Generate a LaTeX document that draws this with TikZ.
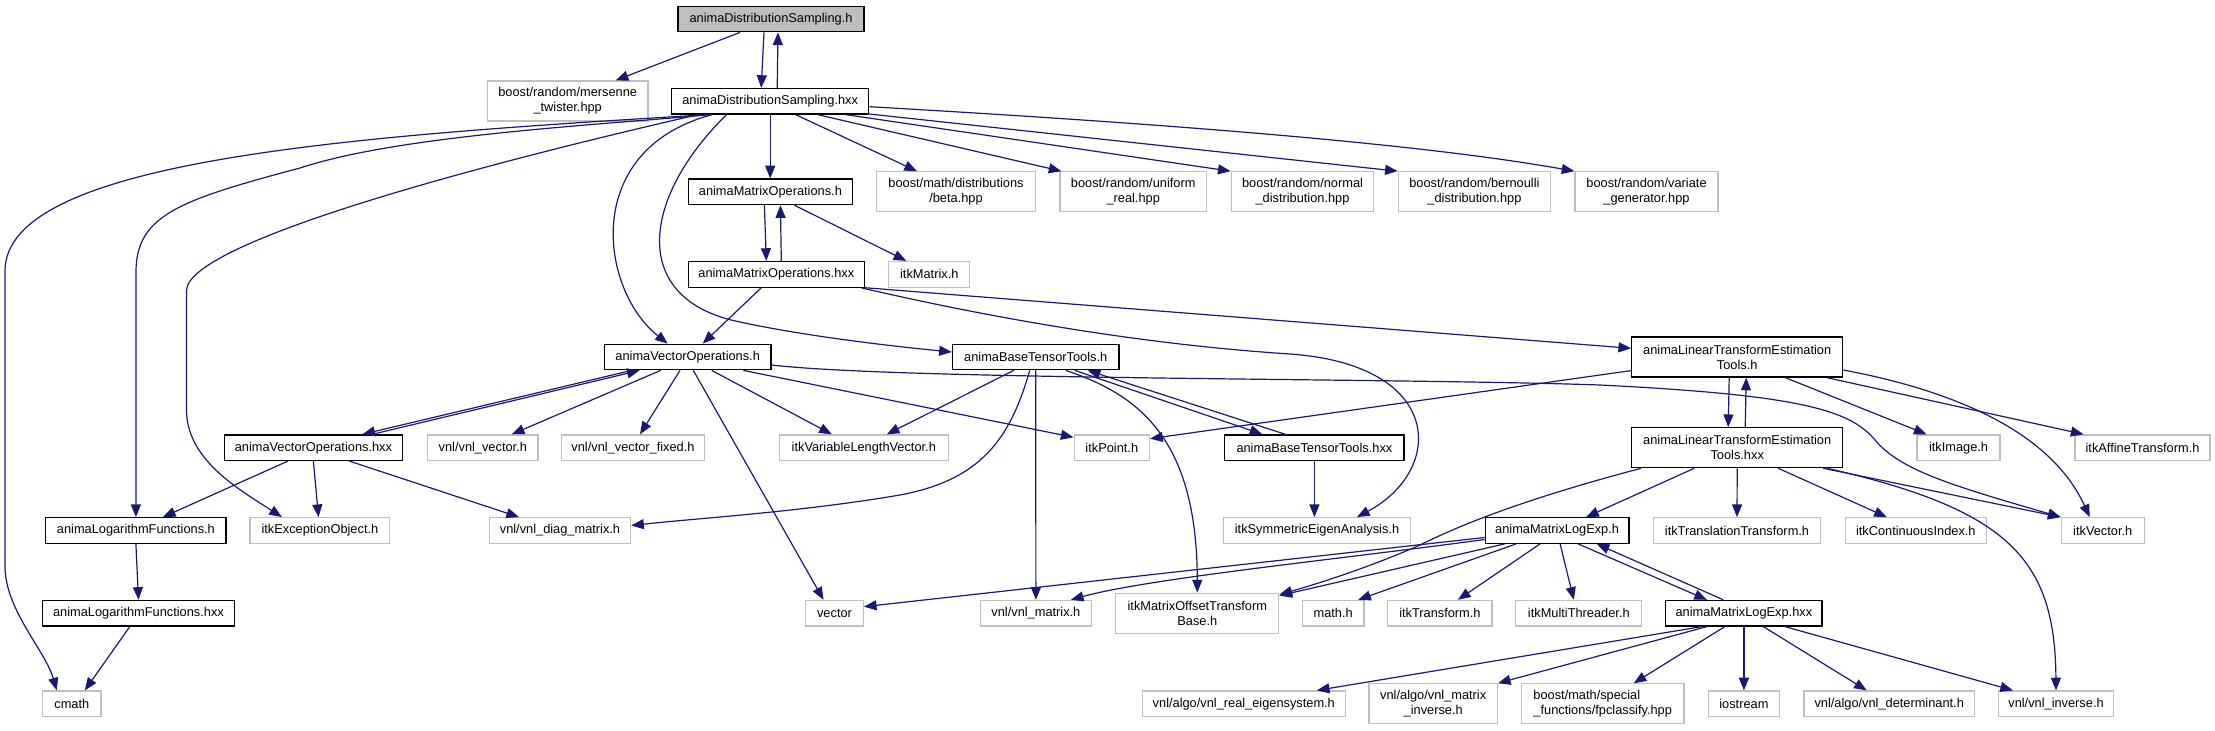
\documentclass[tikz,border=0pt]{standalone}
\usepackage{fontspec}
\setmainfont{Liberation Sans}
\usetikzlibrary{arrows.meta,calc}
\definecolor{midnight}{HTML}{191970}
\definecolor{grey75}{HTML}{BFBFBF}
\begin{document}
\begin{tikzpicture}[x=0.75pt,y=-0.75pt,
  font=\fontsize{9.6}{11.25}\selectfont,
  nb/.style={rectangle, inner sep=0pt, align=center, line width=0.9pt, minimum height=19.2pt},
  doc/.style={nb, draw=black},
  ext/.style={nb, draw=grey75},
  root/.style={doc, fill=grey75},
  two/.style={minimum height=30pt},
  w/.style={minimum width=#1*0.75pt},
  dep/.style={draw=midnight, line width=0.9pt, -{Triangle[length=9.5pt,width=7.5pt]}}]
\useasboundingbox (0,0) rectangle (2215,731);
% rank 0
\node[root, w=186] (DSh) at (771,19) {animaDistributionSampling.h};
% rank 1
\node[ext, two, w=160.5] (mersenne) at (567.7,101) {boost/random/mersenne\\\_twister.hpp};
\node[doc, w=197.3] (DShxx) at (770.2,101.3) {animaDistributionSampling.hxx};
% rank 2
\node[doc, w=163.8] (MOh) at (770.4,191.8) {animaMatrixOperations.h};
\node[ext, two, w=159] (beta) at (956,191.8) {boost/math/distributions\\/beta.hpp};
\node[ext, two, w=146.3] (uniform) at (1133.2,191.8) {boost/random/uniform\\\_real.hpp};
\node[ext, two, w=142.5] (normal) at (1302.5,191.8) {boost/random/normal\\\_distribution.hpp};
\node[ext, two, w=152.2] (bernoulli) at (1474.4,191.8) {boost/random/bernoulli\\\_distribution.hpp};
\node[ext, two, w=143] (variate) at (1646.5,191.8) {boost/random/variate\\\_generator.hpp};
% rank 3
\node[doc, w=175.6] (MOhxx) at (776.3,274.3) {animaMatrixOperations.hxx};
\node[ext, w=81.1] (itkMatrix) at (929.3,274.3) {itkMatrix.h};
% rank 4
\node[doc, w=166.7] (VOh) at (687.7,357) {animaVectorOperations.h};
\node[doc, w=166.6] (BTTh) at (1035.7,357) {animaBaseTensorTools.h};
\node[doc, two, w=211] (LTETh) at (1737.2,357) {animaLinearTransformEstimation\\Tools.h};
% rank 5
\node[doc, w=178.4] (VOhxx) at (313.4,447.7) {animaVectorOperations.hxx};
\node[ext, w=110.4] (vnlvector) at (482.8,447.7) {vnl/vnl\_vector.h};
\node[ext, w=142.7] (vnlvecfixed) at (633,447.7) {vnl/vnl\_vector\_fixed.h};
\node[ext, w=169] (itkVLV) at (863.8,447.7) {itkVariableLengthVector.h};
\node[ext, w=75.3] (itkPoint) at (1111.8,447.7) {itkPoint.h};
\node[doc, w=179.2] (BTThxx) at (1314.4,447.7) {animaBaseTensorTools.hxx};
\node[doc, two, w=211] (LTEThxx) at (1737.2,447.7) {animaLinearTransformEstimation\\Tools.hxx};
\node[ext, w=83] (itkImage) at (1958.5,447.7) {itkImage.h};
\node[ext, w=135] (itkAffine) at (2142.5,447.7) {itkAffineTransform.h};
% rank 6
\node[doc, w=180.2] (LogFnh) at (135.9,530.5) {animaLogarithmFunctions.h};
\node[ext, w=139.8] (itkExc) at (319.9,530.5) {itkExceptionObject.h};
\node[ext, w=141.2] (vnldiag) at (560,530.5) {vnl/vnl\_diag\_matrix.h};
\node[ext, w=187.4] (itkSym) at (1317,530.5) {itkSymmetricEigenAnalysis.h};
\node[doc, w=143.8] (MLEh) at (1557.1,530.5) {animaMatrixLogExp.h};
\node[ext, w=166.8] (itkTrans) at (1737,530.5) {itkTranslationTransform.h};
\node[ext, w=141.2] (itkCont) at (1915.8,530.5) {itkContinuousIndex.h};
\node[ext, w=82.9] (itkVector) at (2102.7,530.5) {itkVector.h};
% rank 7
\node[doc, w=192] (LogFnhxx) at (138.5,613.2) {animaLogarithmFunctions.hxx};
\node[ext, w=57.6] (vector) at (834.5,613.2) {vector};
\node[ext, w=110.8] (vnlmatrix) at (1035.9,613.2) {vnl/vnl\_matrix.h};
\node[ext, two, w=163] (itkMOTB) at (1197.3,613.2) {itkMatrixOffsetTransform\\Base.h};
\node[ext, w=61.7] (mathh) at (1333.2,613.2) {math.h};
\node[ext, w=104.3] (itkTransform) at (1439.9,613.2) {itkTransform.h};
\node[ext, w=125.9] (itkMT) at (1578.8,613.2) {itkMultiThreader.h};
\node[doc, w=156.2] (MLEhxx) at (1743.9,613.2) {animaMatrixLogExp.hxx};
% rank 8
\node[ext, w=58.5] (cmath) at (71.8,703.8) {cmath};
\node[ext, w=203] (vnlreal) at (1243.8,703.8) {vnl/algo/vnl\_real\_eigensystem.h};
\node[ext, two, w=128.3] (vnlmatinv) at (1433.2,703.8) {vnl/algo/vnl\_matrix\\\_inverse.h};
\node[ext, two, w=162.7, align=left] (fpclass) at (1602.7,703.8) {boost/math/special\\\_functions/fpclassify.hpp};
\node[ext, w=70.8] (iostream) at (1743.9,703.8) {iostream};
\node[ext, w=170.3] (vnldet) at (1889.2,703.8) {vnl/algo/vnl\_determinant.h};
\node[ext, w=114.6] (vnlinv) at (2056,703.8) {vnl/vnl\_inverse.h};

% ---- edges ----
\draw[dep] ($(DSh.south)+(-31,0)$) -- ($(mersenne.north)+(48,0)$);
\draw[dep] ($(DSh.south)+(-7,0)$) -- ($(DShxx.north)+(-9,0)$);
\draw[dep] ($(DShxx.north)+(7,0)$) -- ($(DSh.south)+(7,0)$);
\draw[dep] (DShxx.south) -- (DShxx.south |- MOh.north);
\draw[dep] ($(DShxx.south)+(25.5,0)$) -- ($(beta.north)+(-39,0)$);
\draw[dep] ($(DShxx.south)+(47.7,0)$) -- ($(uniform.north west)+(2,0)$);
\draw[dep] ($(DShxx.south)+(76,0)$) -- (normal.north west);
\draw[dep] ($(DShxx.south east)+(-3,-1)$) -- (bernoulli.north west);
\draw[dep] ($(DShxx.east)+(0,5.4)$) .. controls (1100,120) and (1400,140) .. (variate.north west);
\draw[dep] ($(DShxx.south west)+(36.5,0)$) .. controls (350,136) and (5,160) .. (5,271) -- (5,566) .. controls (5,610) and (45,650) .. ($(cmath.north)+(-15,0)$);
\draw[dep] ($(DShxx.south west)+(38.5,0)$) .. controls (600,125) and (400,135) .. (300,168) .. controls (180,200) and (136,215) .. (136,272) -- (LogFnh.north);
\draw[dep] ($(DShxx.south west)+(27,0)$) .. controls (500,160) and (190,240) .. (186.5,290) -- (186.5,410) .. controls (186.5,460) and (240,490) .. ($(itkExc.north)+(-38,0)$);
\draw[dep] ($(DShxx.south west)+(41,0)$) .. controls (580,150) and (600,290) .. ($(VOh.north)+(-20,0)$);
\draw[dep] ($(DShxx.south west)+(55.5,0)$) .. controls (640,200) and (630,300) .. (740,322) .. controls (800,335) and (880,345) .. ($(BTTh.west)+(0,-5)$);
% matrix operations
\draw[dep] ($(MOh.south)+(-6,0)$) -- ($(MOhxx.north)+(-10,0)$);
\draw[dep] ($(MOhxx.north)+(5,0)$) -- ($(MOh.south)+(10,0)$);
\draw[dep] ($(MOh.south)+(24,0)$) -- ($(itkMatrix.north)+(-23,0)$);
\draw[dep] ($(MOhxx.south)+(-15,0)$) -- ($(VOh.north)+(15,0)$);
\draw[dep] ($(MOhxx.south east)+(-4,0)$) .. controls (1000,320) and (1150,345) .. (1290,354) .. controls (1445,365) and (1445,470) .. ($(itkSym.north)+(40,0)$);
\draw[dep] (MOhxx.south east) -- ($(LTETh.west)+(0,-8.7)$);
% vector operations
\draw[dep] ($(VOh.south)+(-56,0)$) -- ($(VOhxx.north)+(49,0)$);
\draw[dep] ($(VOhxx.north)+(59,0)$) -- ($(VOh.south)+(-48,0)$);
\draw[dep] ($(VOh.south)+(-27,0)$) -- ($(vnlvector.north)+(29,0)$);
\draw[dep] ($(VOh.south)+(-7.7,0)$) -- ($(vnlvecfixed.north)+(7,0)$);
\draw[dep] ($(VOh.south)+(24,0)$) -- ($(itkVLV.north)+(-32,0)$);
\draw[dep] ($(VOh.south)+(55.6,0)$) -- ($(itkPoint.north west)+(0,3)$);
\draw[dep] ($(VOh.south)+(5.6,0)$) -- ($(vector.north)+(-11,0)$);
\draw[dep] ($(VOh.east)+(0,8)$) .. controls (900,380) and (1400,378) .. (1600,385) .. controls (1800,395) and (1850,410) .. (1875,440) .. controls (1900,470) and (1950,485) .. (itkVector.north west);
% vector operations hxx
\draw[dep] ($(VOhxx.south)+(-25.5,0)$) -- ($(LogFnh.north)+(27,0)$);
\draw[dep] (VOhxx.south) -- ($(itkExc.north)+(-1.4,0)$);
\draw[dep] ($(VOhxx.south)+(36,0)$) -- ($(vnldiag.north)+(-41,0)$);
\draw[dep] (LogFnh.south) -- (LogFnhxx.north);
\draw[dep] ($(LogFnhxx.south)+(-8.7,0)$) -- ($(cmath.north)+(13,0)$);
% base tensor tools
\draw[dep] ($(BTTh.south)+(-22,0)$) -- ($(itkVLV.north)+(23,0)$);
\draw[dep] ($(BTTh.south)+(-6,0)$) .. controls (1010,440) and (980,480) .. (900,495) .. controls (800,512) and (700,518) .. ($(vnldiag.east)+(0,-5)$);
\draw[dep] (BTTh.south) -- (vnlmatrix.north);
\draw[dep] ($(BTTh.south)+(30,0)$) .. controls (1140,395) and (1197,440) .. (itkMOTB.north);
\draw[dep] ($(BTTh.south)+(39,0)$) -- ($(BTThxx.north)+(-52,0)$);
\draw[dep] ($(BTThxx.north)+(-29,0)$) -- ($(BTTh.south)+(52,0)$);
\draw[dep] (BTThxx.south) -- (BTThxx.south |- itkSym.north);
% linear transform estimation tools
\draw[dep] ($(LTETh.south west)+(0,-7)$) -- ($(itkPoint.east)+(0,-9)$);
\draw[dep] ($(LTETh.south)+(-8,0)$) -- ($(LTEThxx.north)+(-9,0)$);
\draw[dep] ($(LTEThxx.north)+(8,0)$) -- ($(LTETh.south)+(9,0)$);
\draw[dep] ($(LTETh.south)+(48,0)$) -- ($(itkImage.north)+(-32,0)$);
\draw[dep] ($(LTETh.south)+(89.5,0)$) -- ($(itkAffine.north)+(-59,0)$);
\draw[dep] ($(LTETh.east)+(0,13)$) .. controls (1950,390) and (2050,430) .. ($(itkVector.north)+(-13,0)$);
\draw[dep] ($(LTEThxx.south west)+(10,0)$) .. controls (1540,495) and (1470,520) .. (1420,545) .. controls (1370,567) and (1320,583) .. ($(itkMOTB.north east)+(0,2)$);
\draw[dep] ($(LTEThxx.south)+(-43,0)$) -- ($(MLEh.north)+(29,0)$);
\draw[dep] (LTEThxx.south) -- (itkTrans.north);
\draw[dep] ($(LTEThxx.south)+(41,0)$) -- ($(itkCont.north)+(-29,0)$);
\draw[dep] ($(LTEThxx.south)+(86,0)$) -- (itkVector.north west);
\draw[dep] ($(LTEThxx.south)+(90,0)$) .. controls (2010,510) and (2055,560) .. (vnlinv.north);
% matrix log exp
\draw[dep] ($(MLEh.west)+(0,7)$) -- ($(vector.east)+(0,-6.5)$);
\draw[dep] ($(MLEh.west)+(0,9)$) .. controls (1350,558) and (1150,578) .. ($(vnlmatrix.north east)+(-21,0)$);
\draw[dep] ($(MLEh.south west)+(20,0)$) -- ($(itkMOTB.north east)+(0,3)$);
\draw[dep] ($(MLEh.south west)+(31.5,0)$) -- ($(mathh.north)+(25,0)$);
\draw[dep] ($(MLEh.south)+(-17,0)$) -- ($(itkTransform.north)+(18,0)$);
\draw[dep] ($(MLEh.south)+(3,0)$) -- ($(itkMT.north)+(-5,0)$);
\draw[dep] ($(MLEh.south)+(21,0)$) -- ($(MLEhxx.north)+(-37,0)$);
\draw[dep] ($(MLEhxx.north)+(-20.6,0)$) -- ($(MLEh.south)+(39.6,0)$);
\draw[dep] ($(MLEhxx.south)+(-42,0)$) -- ($(vnlreal.north)+(73,0)$);
\draw[dep] ($(MLEhxx.south)+(-37,0)$) -- (vnlmatinv.north east);
\draw[dep] ($(MLEhxx.south)+(-19,0)$) -- ($(fpclass.north)+(31,0)$);
\draw[dep] (MLEhxx.south) -- (iostream.north);
\draw[dep] ($(MLEhxx.south)+(19.4,0)$) -- ($(vnldet.north)+(-22.5,0)$);
\draw[dep] ($(MLEhxx.south)+(41,0)$) -- ($(vnlinv.north)+(-43,0)$);
\end{tikzpicture}
\end{document}
